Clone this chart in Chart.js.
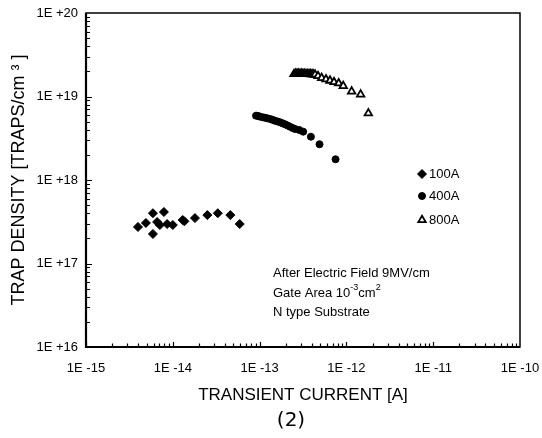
<!DOCTYPE html>
<html>
<head>
<meta charset="utf-8">
<script src="https://cdn.jsdelivr.net/npm/chart.js@4"></script>
<style>
  html, body { margin: 0; padding: 0; background: #fff; }
  canvas { display: block; }
</style>
</head>
<body>
<canvas id="chart" width="542" height="438"></canvas>
<script>
// axis decades and their labels
const xDecades = [1e-15, 1e-14, 1e-13, 1e-12, 1e-11, 1e-10];
const xTickLabels = ['1E -15', '1E -14', '1E -13', '1E -12', '1E -11', '1E -10'];
const yDecades = [1e16, 1e17, 1e18, 1e19, 1e20];
const yTickLabels = ['1E +16', '1E +17', '1E +18', '1E +19', '1E +20'];

// 100A oxide
const current100 = [3.97e-15, 4.9e-15, 5.9e-15, 5.9e-15, 6.6e-15, 7.1e-15, 7.9e-15, 8.6e-15, 1.0e-14, 1.3e-14, 1.36e-14, 1.8e-14, 2.5e-14, 3.3e-14, 4.6e-14, 5.9e-14];
const trap100 = [2.74e17, 3.06e17, 4.0e17, 2.26e17, 3.14e17, 2.89e17, 4.14e17, 2.97e17, 2.89e17, 3.32e17, 3.2e17, 3.5e17, 3.8e17, 4.0e17, 3.8e17, 2.97e17];

// 400A oxide
const current400 = [9.1e-14, 9.6e-14, 1.0e-13, 1.08e-13, 1.15e-13, 1.23e-13, 1.32e-13, 1.41e-13, 1.5e-13, 1.61e-13, 1.72e-13, 1.84e-13, 1.96e-13, 2.1e-13, 2.24e-13, 2.4e-13, 2.56e-13, 2.87e-13, 3.18e-13, 3.9e-13, 4.9e-13, 7.5e-13];
const trap400 = [5.9e18, 5.85e18, 5.75e18, 5.65e18, 5.57e18, 5.48e18, 5.38e18, 5.25e18, 5.13e18, 5.02e18, 4.91e18, 4.78e18, 4.65e18, 4.5e18, 4.35e18, 4.2e18, 4.08e18, 3.97e18, 3.79e18, 3.3e18, 2.68e18, 1.77e18];

// 800A oxide
const current800 = [2.49e-13, 2.6e-13, 2.7e-13, 2.81e-13, 2.92e-13, 3.04e-13, 3.16e-13, 3.29e-13, 3.42e-13, 3.56e-13, 3.71e-13, 3.86e-13, 4.02e-13, 4.18e-13, 4.35e-13, 4.71e-13, 5.19e-13, 5.82e-13, 6.47e-13, 7.2e-13, 8.15e-13, 9.2e-13, 1.15e-12, 1.46e-12, 1.79e-12];
const trap800 = [1.86e19, 1.88e19, 1.88e19, 1.88e19, 1.87e19, 1.88e19, 1.87e19, 1.87e19, 1.86e19, 1.86e19, 1.86e19, 1.85e19, 1.85e19, 1.84e19, 1.83e19, 1.76e19, 1.67e19, 1.61e19, 1.55e19, 1.49e19, 1.44e19, 1.34e19, 1.15e19, 1.06e19, 6.3e18];

const seriesNames = ['100A', '400A', '800A'];

const FONT = "'Liberation Sans', Arial, sans-serif";

function pts(xs, ys) {
    return xs.map((x, i) => ({ x: x, y: ys[i] }));
}

const styles = [
    { pointStyle: 'rectRot', radius: 4.5, backgroundColor: '#000', borderColor: '#000', borderWidth: 1 },
    { pointStyle: 'circle', radius: 3.5, backgroundColor: '#000', borderColor: '#000', borderWidth: 1 },
    { pointStyle: 'triangle', radius: 4.3, backgroundColor: '#fff', borderColor: '#000', borderWidth: 1.8 },
];

const datasets = [
    pts(current100, trap100),
    pts(current400, trap400),
    pts(current800, trap800),
].map((data, i) => ({
    label: seriesNames[i],
    data: data,
    showLine: false,
    pointStyle: styles[i].pointStyle,
    pointRadius: styles[i].radius,
    pointBackgroundColor: styles[i].backgroundColor,
    pointBorderColor: styles[i].borderColor,
    pointBorderWidth: styles[i].borderWidth,
}));

// frame, inward minor ticks, legend and notes
const decorations = {
    id: 'decorations',
    beforeDraw(chart) {
        const ctx = chart.ctx;
        ctx.save();
        ctx.fillStyle = '#fff';
        ctx.fillRect(0, 0, chart.width, chart.height);
        ctx.restore();
    },
    afterDraw(chart) {
        const ctx = chart.ctx;
        const a = chart.chartArea;
        const xs = chart.scales.x, ys = chart.scales.y;
        ctx.save();
        ctx.strokeStyle = '#000';

        // ticks on left and bottom axes, pointing in
        ctx.lineWidth = 1.2;
        ctx.beginPath();
        yDecades.slice(0, -1).forEach(d => {
            for (let m = 1; m <= 9; m++) {
                const py = Math.round(ys.getPixelForValue(d * m)) + 0.5;
                const len = m === 1 ? 6 : 4;
                ctx.moveTo(a.left, py);
                ctx.lineTo(a.left + len, py);
            }
        });
        xDecades.slice(0, -1).forEach(d => {
            for (let m = 1; m <= 9; m++) {
                const px = Math.round(xs.getPixelForValue(d * m)) + 0.5;
                const len = m === 1 ? 5 : 3.5;
                ctx.moveTo(px, a.bottom);
                ctx.lineTo(px, a.bottom - len);
            }
        });
        ctx.stroke();

        // frame
        ctx.lineWidth = 1.5;
        ctx.strokeRect(a.left, a.top, a.right - a.left, a.bottom - a.top);
        ctx.lineWidth = 2.2;
        ctx.beginPath();
        ctx.moveTo(a.left, a.top);
        ctx.lineTo(a.left, a.bottom);
        ctx.lineTo(a.right, a.bottom);
        ctx.stroke();

        // legend
        const legendY = [174, 196, 220];
        ctx.font = '13px ' + FONT;
        ctx.textBaseline = 'middle';
        ctx.textAlign = 'left';
        styles.forEach((s, i) => {
            ctx.fillStyle = s.backgroundColor;
            ctx.strokeStyle = s.borderColor;
            ctx.lineWidth = s.borderWidth;
            Chart.helpers.drawPoint(ctx, { pointStyle: s.pointStyle, radius: s.radius, borderWidth: s.borderWidth, rotation: 0 }, 422, legendY[i]);
            ctx.fillStyle = '#000';
            ctx.fillText(seriesNames[i], 429, legendY[i] + 0.5);
        });

        // notes
        ctx.fillStyle = '#000';
        ctx.font = '13px ' + FONT;
        ctx.textBaseline = 'middle';
        const nx = 273;
        ctx.fillText('After Electric Field 9MV/cm', nx, 273);
        let x = nx;
        const t1 = 'Gate Area 10';
        ctx.fillText(t1, x, 293);
        x += ctx.measureText(t1).width;
        ctx.font = '9px ' + FONT;
        ctx.fillText('-3', x, 288);
        x += ctx.measureText('-3').width;
        ctx.font = '13px ' + FONT;
        ctx.fillText('cm', x, 293);
        x += ctx.measureText('cm').width;
        ctx.font = '9px ' + FONT;
        ctx.fillText('2', x, 288);
        ctx.font = '13px ' + FONT;
        ctx.fillText('N type Substrate', nx, 312);

        // figure number
        ctx.font = "20px 'DejaVu Sans', sans-serif";
        ctx.textAlign = 'center';
        ctx.fillText('(2)', 291, 421);
        ctx.restore();
    }
};

new Chart(document.getElementById('chart'), {
    type: 'scatter',
    data: { datasets: datasets },
    options: {
        responsive: false,
        animation: false,
        events: [],
        layout: { padding: { left: 0, right: 22, top: 13, bottom: 0 } },
        plugins: { legend: { display: false }, tooltip: { enabled: false } },
        scales: {
            x: {
                type: 'logarithmic',
                min: 1e-15,
                max: 1e-10,
                afterFit: s => { s.height = 91; s.paddingLeft = 0; s.paddingRight = 0; },
                afterBuildTicks: s => { s.ticks = xDecades.map(v => ({ value: v, major: true })); },
                grid: { display: false, drawTicks: false },
                border: { display: false },
                ticks: {
                    autoSkip: false,
                    maxRotation: 0,
                    padding: 14,
                    color: '#000',
                    font: { family: FONT, size: 13 },
                    callback: (v, i) => xTickLabels[i],
                },
                title: {
                    display: true,
                    text: 'TRANSIENT CURRENT [A]',
                    color: '#000',
                    font: { family: FONT, size: 17 },
                    padding: { top: 0, bottom: 32 },
                },
            },
            y: {
                type: 'logarithmic',
                min: 1e16,
                max: 1e20,
                afterFit: s => { s.width = 86; s.paddingTop = 0; s.paddingBottom = 0; },
                afterBuildTicks: s => { s.ticks = yDecades.map(v => ({ value: v, major: true })); },
                grid: { display: false, drawTicks: false },
                border: { display: false },
                ticks: {
                    autoSkip: false,
                    padding: 8,
                    color: '#000',
                    font: { family: FONT, size: 13 },
                    callback: (v, i) => yTickLabels[i],
                },
                title: {
                    display: true,
                    text: 'TRAP DENSITY [TRAPS/cm \u00B3 ]',
                    color: '#000',
                    font: { family: FONT, size: 18 },
                    padding: { top: 8, bottom: 0 },
                },
            },
        },
    },
    plugins: [decorations],
});
</script>
</body>
</html>
